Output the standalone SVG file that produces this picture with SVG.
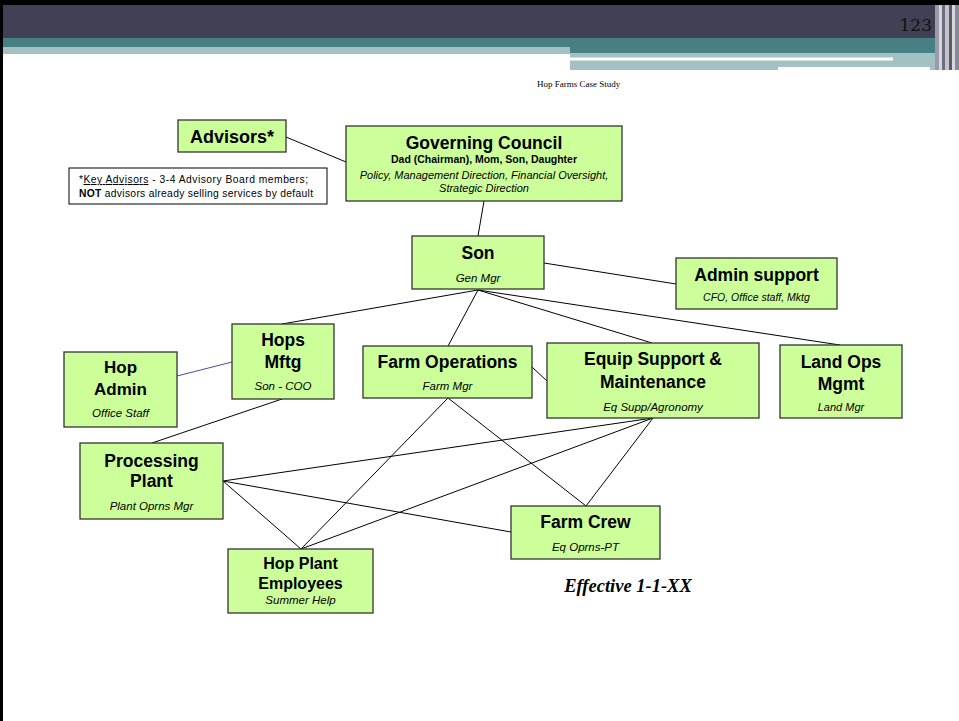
<svg xmlns="http://www.w3.org/2000/svg" width="959" height="721" viewBox="0 0 959 721">
<style>
.box{fill:#ccff99;stroke:#333;stroke-width:1.3}
.t{font-family:"Liberation Sans",Arial,sans-serif;font-weight:bold;font-size:17.5px;fill:#000;text-anchor:middle}
.s{font-family:"Liberation Sans",Arial,sans-serif;font-style:italic;font-size:11.5px;fill:#000;text-anchor:middle}
.ln{stroke:#000;stroke-width:1;fill:none}
</style>
<rect x="0" y="0" width="959" height="721" fill="#fff"/>
<g id="header">
<rect x="0" y="0" width="959" height="5" fill="#000"/>
<rect x="0" y="5" width="935" height="33" fill="#414155"/>
<rect x="0" y="38" width="570" height="9" fill="#467f84"/>
<rect x="0" y="47" width="570" height="7" fill="#a3c0c3"/>
<rect x="570" y="38" width="365" height="15" fill="#467f84"/>
<rect x="570" y="53" width="365" height="17" fill="#a3c0c3"/>
<rect x="570" y="57.5" width="323" height="3" fill="#fff"/>
<rect x="778" y="67" width="152" height="4" fill="#fff"/>
<rect x="935" y="5" width="4" height="65" fill="#9a9aa8"/>
<rect x="939" y="5" width="3" height="65" fill="#d4d4dc"/>
<rect x="942" y="5" width="3" height="65" fill="#6e6e7e"/>
<rect x="945" y="5" width="4" height="65" fill="#c4c4cc"/>
<rect x="949" y="5" width="3" height="65" fill="#5a5a6a"/>
<rect x="952" y="5" width="3" height="65" fill="#d8d8e0"/>
<rect x="955" y="5" width="4" height="65" fill="#8a8a98"/>
<text x="932" y="31" font-family="'DejaVu Serif',serif" font-size="17" text-anchor="end" fill="#111">123</text>
<text x="537" y="87" font-family="'Liberation Serif',serif" font-size="9" fill="#000">Hop Farms Case Study</text>
</g>
<rect x="0" y="0" width="3" height="721" fill="#000"/>
<g id="connectors">
<line class="ln" x1="286" y1="137" x2="346" y2="162"/>
<line class="ln" x1="484" y1="201" x2="478" y2="236"/>
<line class="ln" x1="544" y1="263" x2="676" y2="284"/>
<line class="ln" x1="478" y1="290" x2="282" y2="324"/>
<line class="ln" x1="478" y1="290" x2="448" y2="346"/>
<line class="ln" x1="478" y1="290" x2="652" y2="343"/>
<line class="ln" x1="478" y1="290" x2="840" y2="345"/>
<line x1="177" y1="376" x2="232" y2="362" stroke="#4b4b9b" stroke-width="1"/>
<line class="ln" x1="282" y1="399" x2="152" y2="443"/>
<line class="ln" x1="532" y1="367" x2="547" y2="381"/>
<line class="ln" x1="223" y1="481" x2="653" y2="418"/>
<line class="ln" x1="223" y1="481" x2="511" y2="532"/>
<line class="ln" x1="223" y1="481" x2="301" y2="549"/>
<line class="ln" x1="301" y1="549" x2="448" y2="398"/>
<line class="ln" x1="301" y1="549" x2="653" y2="418"/>
<line class="ln" x1="448" y1="398" x2="586" y2="506"/>
<line class="ln" x1="653" y1="418" x2="586" y2="506"/>
</g>
<g id="advisors">
<rect class="box" x="178" y="120" width="108" height="32"/>
<text class="t" x="232" y="143" style="font-size:18px">Advisors*</text>
</g>
<g id="note">
<rect x="69" y="168" width="258" height="36" fill="#fff" stroke="#000" stroke-width="1"/>
<text x="79" y="183" font-family="'Liberation Sans',Arial,sans-serif" font-size="10.3" textLength="229" lengthAdjust="spacing">*<tspan text-decoration="underline">Key Advisors</tspan>  -  3-4 Advisory Board members;</text>
<text x="79" y="197" font-family="'Liberation Sans',Arial,sans-serif" font-size="10.3" textLength="234" lengthAdjust="spacing"><tspan font-weight="bold">NOT</tspan> advisors already selling services by default</text>
</g>
<g id="governing-council">
<rect class="box" x="346" y="126" width="276" height="75"/>
<text class="t" x="484" y="149">Governing Council</text>
<text class="t" x="484" y="163" style="font-size:10.5px">Dad (Chairman), Mom, Son, Daughter</text>
<text class="s" x="484" y="179" style="font-size:11px">Policy, Management Direction, Financial Oversight,</text>
<text class="s" x="484" y="192" style="font-size:11px">Strategic Direction</text>
</g>
<g id="son">
<rect class="box" x="412" y="236" width="132" height="53"/>
<text class="t" x="478" y="259">Son</text>
<text class="s" x="478" y="282">Gen Mgr</text>
</g>
<g id="admin-support">
<rect class="box" x="676" y="258" width="161" height="51"/>
<text class="t" x="756.5" y="281">Admin support</text>
<text class="s" x="756.5" y="301" style="font-size:10.5px">CFO, Office staff, Mktg</text>
</g>
<g id="hops-mftg">
<rect class="box" x="232" y="324" width="102" height="75"/>
<text class="t" x="283" y="346">Hops</text>
<text class="t" x="283" y="368">Mftg</text>
<text class="s" x="283" y="390">Son - COO</text>
</g>
<g id="hop-admin">
<rect class="box" x="64" y="352" width="113" height="75"/>
<text class="t" x="120.5" y="373" style="font-size:17px">Hop</text>
<text class="t" x="120.5" y="395" style="font-size:17px">Admin</text>
<text class="s" x="120.5" y="417">Office Staff</text>
</g>
<g id="farm-operations">
<rect class="box" x="363" y="346" width="169" height="52"/>
<text class="t" x="447.5" y="368">Farm Operations</text>
<text class="s" x="447.5" y="390">Farm Mgr</text>
</g>
<g id="equip-support">
<rect class="box" x="547" y="343" width="212" height="75"/>
<text class="t" x="653" y="365">Equip Support &amp;</text>
<text class="t" x="653" y="388">Maintenance</text>
<text class="s" x="653" y="411">Eq Supp/Agronomy</text>
</g>
<g id="land-ops">
<rect class="box" x="780" y="345" width="122" height="73"/>
<text class="t" x="841" y="368">Land Ops</text>
<text class="t" x="841" y="390">Mgmt</text>
<text class="s" x="841" y="411" style="font-size:11px">Land Mgr</text>
</g>
<g id="processing-plant">
<rect class="box" x="80" y="443" width="143" height="76"/>
<text class="t" x="151.5" y="467">Processing</text>
<text class="t" x="151.5" y="487">Plant</text>
<text class="s" x="151.5" y="510">Plant Oprns Mgr</text>
</g>
<g id="farm-crew">
<rect class="box" x="511" y="506" width="149" height="53"/>
<text class="t" x="585.5" y="528">Farm Crew</text>
<text class="s" x="585.5" y="551">Eq Oprns-PT</text>
</g>
<g id="hop-plant-employees">
<rect class="box" x="228" y="549" width="145" height="64"/>
<text class="t" x="300.5" y="569" style="font-size:16px">Hop Plant</text>
<text class="t" x="300.5" y="589" style="font-size:16px">Employees</text>
<text class="s" x="300.5" y="604">Summer Help</text>
</g>
<text x="628" y="592" font-family="'Liberation Serif','Times New Roman',serif" font-weight="bold" font-style="italic" font-size="18.5" text-anchor="middle">Effective 1-1-XX</text>
</svg>
